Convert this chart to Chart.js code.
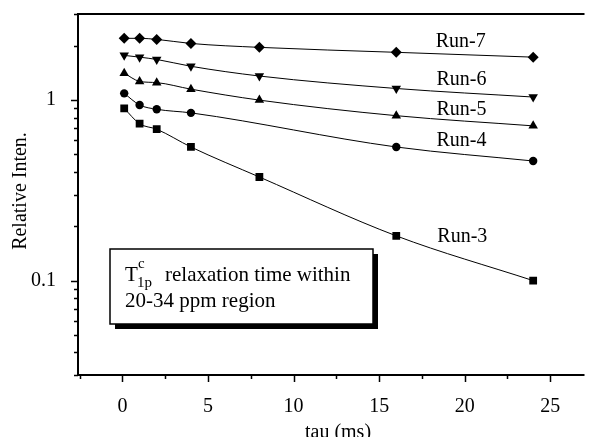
<!DOCTYPE html>
<html lang="en">
<head>
  <meta charset="UTF-8" />
  <title>T1p relaxation</title>
  <script src="https://cdn.jsdelivr.net/npm/chart.js"></script>
  <style>
    body {
      margin: 0;
      padding: 0;
      background: #fff;
    }
    #wrap {
      width: 590px;
      height: 437px;
    }
  </style>
</head>
<body>
  <div id="wrap"><canvas id="chart" width="590" height="437"></canvas></div>

  <script>
    // tau values (ms)
    const tau = [0.1, 1, 2, 4, 8, 16, 24];

    const run7 = [2.2, 2.2, 2.17, 2.06, 1.96, 1.84, 1.73];
    const run6 = [1.77, 1.73, 1.68, 1.54, 1.36, 1.16, 1.04];
    const run5 = [1.41, 1.27, 1.25, 1.15, 1.0, 0.82, 0.72];
    const run4 = [1.09, 0.94, 0.89, 0.85, null, 0.55, 0.46];
    const run3 = [0.90, 0.74, 0.69, 0.55, 0.375, 0.177, 0.10];

    const xTicks = [-2.5, 0, 2.5, 5, 7.5, 10, 12.5, 15, 17.5, 20, 22.5, 25];
    const yTicks = [0.03, 0.04, 0.05, 0.06, 0.07, 0.08, 0.09, 0.1, 0.2, 0.3, 0.4, 0.5, 0.6, 0.7, 0.8, 0.9, 1, 2, 3];
    const yLabels = [0.1, 1];

    // run labels, placed in data units
    const runNames = ['Run-7', 'Run-6', 'Run-5', 'Run-4', 'Run-3'];
    const labelX = [18.3, 18.35, 18.35, 18.35, 18.4];
    const labelY = [1.96, 1.21, 0.826, 0.557, 0.164];

    const serif = "'Liberation Serif', 'DejaVu Serif', serif";

    function series(values, shape, radius, rotation) {
      return {
        data: tau.map((t, i) => ({ x: t, y: values[i] })),
        borderColor: '#000',
        borderWidth: 1,
        backgroundColor: '#000',
        pointStyle: shape,
        pointRadius: radius,
        pointRotation: rotation || 0,
        pointBorderWidth: 0,
        cubicInterpolationMode: 'monotone',
        spanGaps: true
      };
    }

    const decor = {
      id: 'decor',
      afterDraw(chart) {
        const ctx = chart.ctx;
        const a = chart.chartArea;
        const xs = chart.scales.x;
        const ys = chart.scales.y;
        ctx.save();
        ctx.strokeStyle = '#000';
        ctx.fillStyle = '#000';

        // frame: left, top, bottom
        ctx.lineWidth = 2;
        ctx.beginPath();
        ctx.moveTo(a.left, a.top);
        ctx.lineTo(a.left, a.bottom);
        ctx.moveTo(a.left - 1, a.top);
        ctx.lineTo(a.right, a.top);
        ctx.moveTo(a.left - 1, a.bottom);
        ctx.lineTo(a.right, a.bottom);
        ctx.stroke();

        // tick marks
        ctx.lineWidth = 1.5;
        ctx.beginPath();
        xTicks.forEach(v => {
          const px = Math.round(xs.getPixelForValue(v)) + 0.5;
          const len = v % 5 === 0 ? 7 : 4;
          ctx.moveTo(px, a.bottom);
          ctx.lineTo(px, a.bottom + len);
        });
        yTicks.forEach(v => {
          const py = Math.round(ys.getPixelForValue(v)) + 0.5;
          const len = yLabels.includes(v) ? 7 : 4;
          ctx.moveTo(a.left, py);
          ctx.lineTo(a.left - len, py);
        });
        ctx.stroke();

        // run labels
        ctx.font = '20px ' + serif;
        ctx.textAlign = 'left';
        ctx.textBaseline = 'alphabetic';
        runNames.forEach((name, i) => {
          ctx.fillText(name, xs.getPixelForValue(labelX[i]), ys.getPixelForValue(labelY[i]));
        });

        // note box with shadow
        const bx = a.left + 32, by = a.top + 235, bw = 263, bh = 75;
        ctx.fillRect(bx + 5, by + 5, bw, bh);
        ctx.fillStyle = '#fff';
        ctx.fillRect(bx, by, bw, bh);
        ctx.lineWidth = 1.5;
        ctx.strokeRect(bx, by, bw, bh);
        ctx.fillStyle = '#000';
        ctx.font = '21px ' + serif;
        ctx.fillText('T', bx + 15, by + 32);
        ctx.font = '15px ' + serif;
        ctx.fillText('c', bx + 28, by + 19);
        ctx.fillText('1p', bx + 27, by + 38);
        ctx.font = '21px ' + serif;
        ctx.fillText('relaxation time within', bx + 55, by + 32);
        ctx.fillText('20-34 ppm region', bx + 15, by + 58);

        // axis titles
        ctx.font = '20px ' + serif;
        ctx.textAlign = 'center';
        ctx.fillText('tau (ms)', 338, 438);
        ctx.translate(26, 191);
        ctx.rotate(-Math.PI / 2);
        ctx.fillText('Relative Inten.', 0, 0);
        ctx.restore();
      }
    };

    new Chart(document.getElementById('chart').getContext('2d'), {
      type: 'line',
      data: {
        datasets: [
          series(run7, 'rectRot', 5.5),
          series(run6, 'triangle', 5.5, 180),
          series(run5, 'triangle', 5.5),
          series(run4, 'circle', 4.2),
          series(run3, 'rect', 5.5)
        ]
      },
      options: {
        responsive: false,
        animation: false,
        layout: { padding: { top: 14, right: 0, left: 0, bottom: 0 } },
        plugins: {
          legend: { display: false },
          tooltip: { enabled: false }
        },
        scales: {
          x: {
            type: 'linear',
            min: -2.6,
            max: 27,
            afterBuildTicks: s => { s.ticks = xTicks.map(v => ({ value: v })); },
            afterFit: s => { s.height = 62; s.paddingLeft = 0; s.paddingRight = 0; },
            grid: { display: false },
            border: { display: false },
            ticks: {
              color: '#000',
              font: { family: serif, size: 20 },
              padding: 12,
              maxRotation: 0,
              autoSkip: false,
              callback: v => (v % 5 === 0 ? String(v) : '')
            }
          },
          y: {
            type: 'logarithmic',
            min: 0.03,
            max: 3,
            afterBuildTicks: s => { s.ticks = yTicks.map(v => ({ value: v })); },
            afterFit: s => { s.width = 78; s.paddingTop = 0; s.paddingBottom = 0; },
            grid: { display: false },
            border: { display: false },
            ticks: {
              color: '#000',
              font: { family: serif, size: 20 },
              padding: 14,
              autoSkip: false,
              callback: v => (yLabels.includes(v) ? String(v) : '')
            }
          }
        }
      },
      plugins: [decor]
    });
  </script>
</body>
</html>
